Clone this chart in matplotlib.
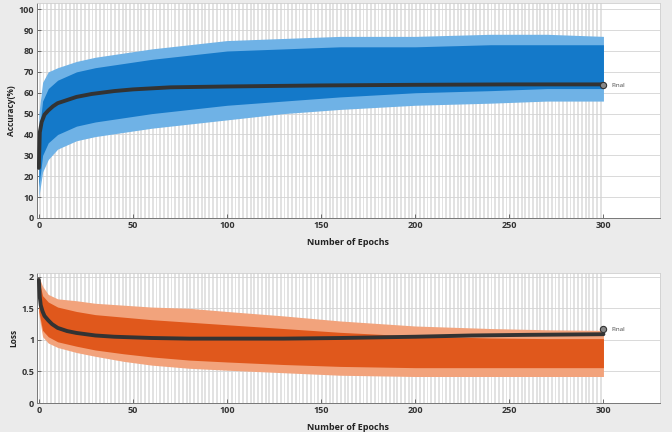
import matplotlib
matplotlib.use("Agg")
import matplotlib.pyplot as plt
import numpy as np

# ---------------- data ----------------
band_epochs = [0, 2, 5, 10, 20, 30, 45, 60, 80, 100, 130, 160, 200, 240, 270, 300]

acc_spike_top = [50, 65, 70, 72, 75, 77, 79, 81, 83, 85, 86, 87, 87, 88, 88, 87]
acc_dense_top = [40, 56, 62, 66, 70, 72, 74, 76, 78, 80, 81, 82, 82, 83, 83, 83]
acc_dense_bot = [15, 30, 36, 40, 44, 46, 48, 50, 52, 54, 56, 58, 60, 61, 62, 62]
acc_spike_bot = [10, 22, 28, 33, 37, 39, 41, 43, 45, 47, 50, 52, 54, 55, 56, 56]

acc_smooth_epochs = [0, 0.5, 1.5, 3, 5, 7.5, 10, 15, 20, 28, 40, 50, 70, 100, 150, 200, 250, 300]
acc_smooth = [24, 41, 46, 49.5, 51.5, 53.5, 55, 56.5, 58, 59.4, 60.8, 61.6, 62.6, 63, 63.5, 63.8, 64, 64]

loss_spike_top = [2.0, 1.85, 1.72, 1.65, 1.62, 1.58, 1.55, 1.52, 1.50, 1.45, 1.38, 1.30, 1.22, 1.18, 1.16, 1.15]
loss_dense_top = [1.95, 1.70, 1.60, 1.52, 1.45, 1.40, 1.36, 1.32, 1.28, 1.24, 1.18, 1.12, 1.06, 1.03, 1.02, 1.02]
loss_dense_bot = [1.45, 1.15, 1.05, 0.97, 0.90, 0.84, 0.78, 0.73, 0.68, 0.65, 0.61, 0.58, 0.56, 0.56, 0.56, 0.56]
loss_spike_bot = [1.40, 1.05, 0.95, 0.88, 0.80, 0.74, 0.66, 0.60, 0.55, 0.52, 0.48, 0.44, 0.42, 0.42, 0.42, 0.42]

loss_smooth_epochs = [0, 0.5, 1, 2, 3, 5, 7, 10, 15, 20, 30, 40, 60, 80, 100, 130, 160, 200, 230, 260, 300]
loss_smooth = [1.95, 1.68, 1.55, 1.45, 1.38, 1.31, 1.25, 1.19, 1.14, 1.11, 1.07, 1.05, 1.03, 1.02, 1.02,
               1.02, 1.03, 1.05, 1.07, 1.08, 1.09]

acc_final = 63.5
loss_final = 1.17
n_epochs = 300

acc_yticks = [0, 10, 20, 30, 40, 50, 60, 70, 80, 90, 100]
loss_yticks = [0, 0.5, 1, 1.5, 2]
loss_yticklabels = ["0", "0.5", "1", "1.5", "2"]
xticks = [0, 50, 100, 150, 200, 250, 300]

# ---------------- style ----------------
plt.rcParams['font.family'] = ['Open Sans', 'DejaVu Sans']
BG = '#ebebeb'
fig = plt.figure(figsize=(6.72, 4.32), dpi=100, facecolor=BG)

ax1 = fig.add_axes([0.055, 0.4954, 0.927, 0.4977])
ax2 = fig.add_axes([0.055, 0.0671, 0.927, 0.301])


def style_axis(ax, ylim, yticks, yticklabels, ylabel):
    ax.set_facecolor('white')
    ax.set_xlim(-1, 330)
    ax.set_ylim(*ylim)
    # alternating epoch shading
    for e in range(0, n_epochs, 2):
        ax.axvspan(e, e + 1, color='#e2e2e2', lw=0, zorder=0)
    for yv in yticks:
        ax.axhline(yv, color='#d3d3d3', lw=0.6, zorder=0.5)
    ax.set_xticks(xticks)
    ax.set_yticks(yticks)
    ax.set_yticklabels(yticklabels)
    ax.tick_params(direction='in', length=3, width=0.6, colors='#555555',
                   labelsize=6.5, labelcolor='#333333', pad=2)
    for lab in ax.get_xticklabels() + ax.get_yticklabels():
        lab.set_fontweight('bold')
    for s in ['top', 'right']:
        ax.spines[s].set_color('#cfcfcf')
        ax.spines[s].set_linewidth(0.6)
    for s in ['left', 'bottom']:
        ax.spines[s].set_color('#777777')
        ax.spines[s].set_linewidth(0.7)
    ax.set_xlabel('Number of Epochs', fontsize=6.5, fontweight='bold', color='#222222', labelpad=6)
    ax.set_ylabel(ylabel, fontsize=6, fontweight='bold', color='#222222', labelpad=2)


style_axis(ax1, (0, 103), acc_yticks, [str(v) for v in acc_yticks], 'Accuracy(%)')
style_axis(ax2, (0, 2.06), loss_yticks, loss_yticklabels, 'Loss')

# accuracy
ax1.fill_between(band_epochs, acc_spike_bot, acc_spike_top, color='#6fb2e6', lw=0, zorder=2)
ax1.fill_between(band_epochs, acc_dense_bot, acc_dense_top, color='#1479c9', lw=0, zorder=3)
ax1.plot(acc_smooth_epochs, acc_smooth, color='#333333', lw=2.8, solid_capstyle='round', zorder=4)
ax1.plot([n_epochs], [acc_final], marker='o', ms=4.5, mfc='#888888', mec='#333333', mew=0.8, zorder=5)
ax1.text(n_epochs + 4, acc_final, 'Final', fontsize=4.5, color='#444444', va='center', ha='left')

# loss
ax2.fill_between(band_epochs, loss_spike_bot, loss_spike_top, color='#f2a37c', lw=0, zorder=2)
ax2.fill_between(band_epochs, loss_dense_bot, loss_dense_top, color='#e0581c', lw=0, zorder=3)
ax2.plot(loss_smooth_epochs, loss_smooth, color='#333333', lw=2.8, solid_capstyle='round', zorder=4)
ax2.plot([n_epochs], [loss_final], marker='o', ms=4.5, mfc='#888888', mec='#333333', mew=0.8, zorder=5)
ax2.text(n_epochs + 4, loss_final, 'Final', fontsize=4.5, color='#444444', va='center', ha='left')

fig.savefig('out.png', dpi=100, facecolor=BG)
